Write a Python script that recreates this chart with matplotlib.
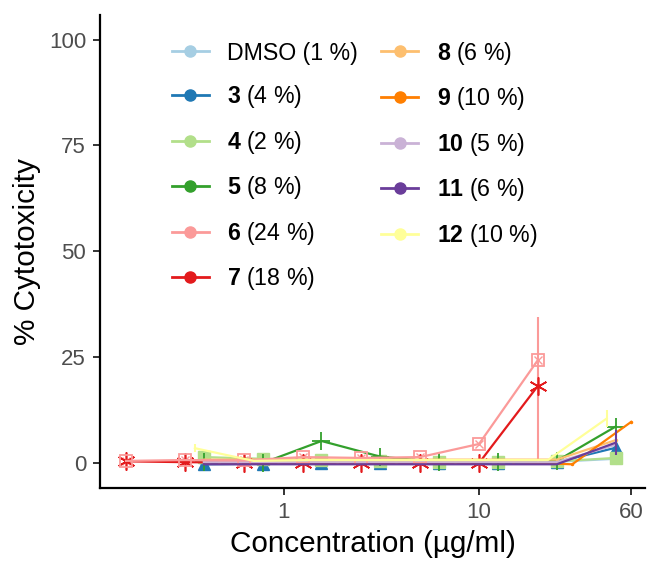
import matplotlib
matplotlib.use('Agg')
import matplotlib.pyplot as plt
from matplotlib.lines import Line2D

plt.rcParams['font.family'] = ['Liberation Sans', 'DejaVu Sans']
plt.rcParams['mathtext.fontset'] = 'custom'
plt.rcParams['mathtext.rm'] = 'Liberation Sans'
plt.rcParams['mathtext.bf'] = 'Liberation Sans:bold'

# concentrations (ug/ml)
conc_a = [0.390625, 0.78125, 1.5625, 3.125, 6.25, 12.5, 25, 50]
conc_b = [0.15625, 0.3125, 0.625, 1.25, 2.5, 5, 10, 20]
conc_9 = [0.46875, 0.9375, 1.875, 3.75, 7.5, 15, 30, 60]
conc_12 = [0.3515625, 0.703125, 1.40625, 2.8125, 5.625, 11.25, 22.5, 45]

# % cytotoxicity
dmso = [0.5, 0.5, 0.3, 0.3, 0.3, 0.3, 0.3, 1.0]
c3 = [-0.3, -0.2, 0.0, 0.0, 0.0, 0.0, 0.2, 3.6]
c4 = [1.4, 1.0, 0.7, 0.4, 0.3, 0.3, 0.4, 1.2]
c5 = [0.2, 0.0, 5.2, 1.5, 0.2, 0.2, 0.5, 8.6]
c6 = [0.5, 0.7, 0.6, 1.4, 1.2, 1.4, 4.5, 24.3]
c7 = [0.4, 0.2, 0.1, 0.0, 0.0, 0.0, 0.0, 18.2]
c8 = [0.8, 0.8, 0.8, 0.8, 0.8, 0.8, 0.8, 5.4]
c9 = [0.2, 0.2, 0.2, 0.2, 0.2, 0.2, -0.3, 9.7]
c10 = [0.2, 0.2, 0.2, 0.2, 0.2, 0.2, 0.2, 4.3]
c11 = [-0.3, -0.3, -0.3, -0.3, -0.3, -0.3, -0.3, 4.8]
c12 = [3.5, 0.5, 0.7, 0.7, 0.7, 0.7, 0.7, 10.5]

# error bars (sd) where visible
err6_lo = [0, 0, 0, 0, 0, 0, 0, 24.3]
err6_hi = [0, 0, 0, 0, 0, 0, 0, 10.2]
err11 = [0, 0, 0, 0, 0, 0, 0, 3.0]
err12 = [1.0, 0, 0, 0, 0, 0, 0, 2.0]

labels = ['DMSO (1 %)', r'$\mathbf{3}$ (4 %)', r'$\mathbf{4}$ (2 %)', r'$\mathbf{5}$ (8 %)',
          r'$\mathbf{6}$ (24 %)', r'$\mathbf{7}$ (18 %)', r'$\mathbf{8}$ (6 %)',
          r'$\mathbf{9}$ (10 %)', r'$\mathbf{10}$ (5 %)', r'$\mathbf{11}$ (6 %)',
          r'$\mathbf{12}$ (10 %)']
colors = ['#A6CEE3', '#1F78B4', '#B2DF8A', '#33A02C', '#FB9A99', '#E31A1C',
          '#FDBF6F', '#FF7F00', '#CAB2D6', '#6A3D9A', '#FFFF99']

fig = plt.figure(figsize=(6.47, 5.62), dpi=100)
ax = fig.add_axes([100/647, 74/562, 545/647, 473/562])

lw = 1.6
# DMSO
ax.plot(conc_a, dmso, color=colors[0], lw=lw, marker='o', ms=7)
# 3
ax.plot(conc_a, c3, color=colors[1], lw=lw, marker='^', ms=8)
# 4
ax.plot(conc_a, c4, color=colors[2], lw=lw, marker='s', ms=9)
# 5
ax.plot(conc_a, c5, color=colors[3], lw=lw, marker='+', ms=13, mew=1.3)
# 6
ax.errorbar(conc_b, c6, yerr=[err6_lo, err6_hi], color=colors[4], lw=lw,
            elinewidth=1.5, capsize=0, marker='s', ms=9, mfc='none', mew=1.3)
ax.plot(conc_b, c6, color=colors[4], lw=0, marker='x', ms=6, mew=1.0)
# 7
ax.plot(conc_b, c7, color=colors[5], lw=lw, marker=(6, 2, 0), ms=13, mew=1.2)
# 8
ax.plot(conc_a, c8, color=colors[6], lw=lw, marker='.', ms=3)
# 9
ax.plot(conc_9, c9, color=colors[7], lw=lw, marker='.', ms=3)
# 10
ax.plot(conc_a, c10, color=colors[8], lw=lw)
# 11
ax.errorbar(conc_a, c11, yerr=err11, color=colors[9], lw=lw, elinewidth=1.5, capsize=0)
# 12
ax.errorbar(conc_12, c12, yerr=err12, color=colors[10], lw=lw, elinewidth=1.5, capsize=0)

ax.set_xscale('log')
ax.set_xlim(0.1149, 70.7)
ax.set_ylim(-5.9, 105.8)
ax.set_xticks([1, 10, 60])
ax.set_xticklabels(['1', '10', '60'])
ax.xaxis.set_minor_locator(matplotlib.ticker.NullLocator())
ax.set_yticks([0, 25, 50, 75, 100])

for s in ['top', 'right']:
    ax.spines[s].set_visible(False)
for s in ['left', 'bottom']:
    ax.spines[s].set_linewidth(1.6)
ax.tick_params(labelsize=16, labelcolor='#4D4D4D', color='#333333', length=5, width=1.4, pad=5)

ax.set_xlabel('Concentration (µg/ml)', fontsize=21.4, labelpad=5)
ax.set_ylabel('% Cytotoxicity', fontsize=21.4, labelpad=6)

handles = [Line2D([0], [0], color=c, lw=2, marker='o', ms=8) for c in colors]
fig.legend(handles, labels, ncol=2, loc='upper left', bbox_to_anchor=(160/647, 1 - 28/562),
           frameon=False, fontsize=16.7, handlelength=1.6, handletextpad=0.8,
           columnspacing=1.0, labelspacing=0.8, borderpad=0)

fig.savefig('out.png', dpi=100)
